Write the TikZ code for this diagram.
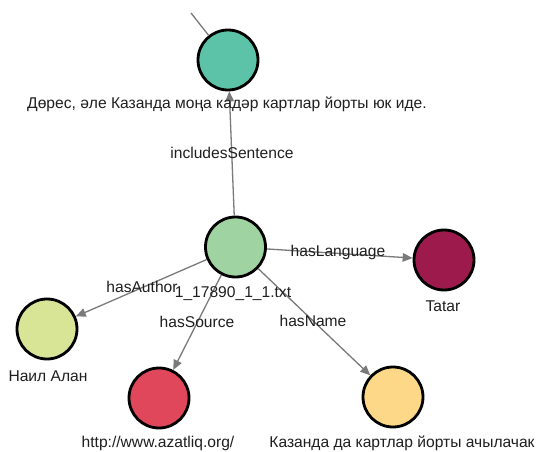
\documentclass[tikz,border=0pt]{standalone}
\usepackage{fontspec}
\setmainfont{Liberation Sans}
\usetikzlibrary{arrows.meta}
\definecolor{cteal}{HTML}{5CC3A9}
\definecolor{cgreen}{HTML}{9FD3A2}
\definecolor{cwine}{HTML}{9C1A4C}
\definecolor{clime}{HTML}{D8E597}
\definecolor{cred}{HTML}{E0475A}
\definecolor{cyellow}{HTML}{FCD888}
\definecolor{cedge}{HTML}{7A7A7A}
\tikzset{
  ent/.style={circle, draw=black, line width=2.8pt, minimum size=60pt, inner sep=0pt},
  lbl/.style={font=\fontsize{15.6}{16}\selectfont, text=black!88, inner sep=0pt},
  rel/.style={draw=cedge, line width=1.3pt, -{Triangle[length=10pt,width=8.5pt]}},
  plain/.style={draw=cedge, line width=1.3pt},
}
\begin{document}
\begin{tikzpicture}[x=1pt,y=-1pt]
\useasboundingbox (0,0) rectangle (542,452);
\fill[white] (0,0) rectangle (542,452);
% nodes
\node[ent, fill=cteal]   (sent) at (228,60) {};
\node[ent, fill=cgreen]  (doc)  at (235.5,247) {};
\node[ent, fill=cwine]   (lang) at (444,260) {};
\node[ent, fill=clime]   (auth) at (47,329) {};
\node[ent, fill=cred]    (src)  at (159,398) {};
\node[ent, fill=cyellow] (name) at (393,397) {};
\coordinate (up) at (191,13);
% edges
\draw[plain] (sent) -- (up);
\draw[rel] (doc) -- (sent);
\draw[rel] (doc) -- (lang);
\draw[rel] (doc) -- (auth);
\draw[rel] (doc) -- (src);
\draw[rel] (doc) -- (name);
% edge labels
\node[lbl] (lIS) at (232,153) {includesSentence};
\node[lbl] (lHL) at (338,252) {hasLanguage};
\node[lbl] (lHA) at (142,287) {hasAuthor};
\node[lbl] (lHS) at (197,322) {hasSource};
\node[lbl] (lHN) at (313,321) {hasName};
% node labels
\node[lbl] (tsent) at (227,104) {Дөрес, әле Казанда моңа кадәр картлар йорты юк иде.};
\node[lbl] (tdoc)  at (233,294) {1\_17890\_1\_1.txt};
\node[lbl] (tlang) at (443,306) {Tatar};
\node[lbl] (tauth) at (48,376) {Наил Алан};
\node[lbl] (tsrc)  at (158,443) {http://www.azatliq.org/};
\node[lbl] (tname) at (402,443) {Казанда да картлар йорты ачылачак};
\end{tikzpicture}
\end{document}
